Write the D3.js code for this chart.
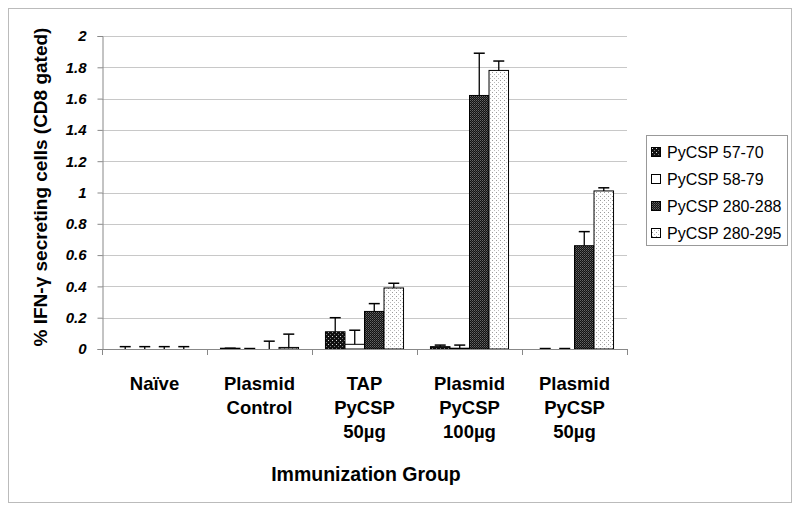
<!DOCTYPE html>
<html><head><meta charset="utf-8">
<script src="https://cdn.jsdelivr.net/npm/d3@7"></script>
<style>body{margin:0;background:#fff;} svg{display:block;font-family:Arial,"Liberation Sans",sans-serif;}</style>
</head><body>
<script>
const categories = [["Naïve"],["Plasmid","Control"],["TAP","PyCSP","50µg"],["Plasmid","PyCSP","100µg"],["Plasmid","PyCSP","50µg"]];
const seriesNames = ["PyCSP 57-70","PyCSP 58-79","PyCSP 280-288","PyCSP 280-295"];
const values = [
  [0, 0.005, 0.11, 0.015, 0],
  [0, 0, 0.03, 0.005, 0],
  [0, 0, 0.24, 1.62, 0.66],
  [0, 0.01, 0.39, 1.78, 1.01]
];
const errors = [
  [0.015, 0.0, 0.09, 0.01, 0.003],
  [0.015, 0.003, 0.09, 0.02, 0.003],
  [0.015, 0.05, 0.05, 0.27, 0.09],
  [0.015, 0.085, 0.03, 0.06, 0.02]
];
const yTicks = [0,0.2,0.4,0.6,0.8,1,1.2,1.4,1.6,1.8,2];

(function(){
const W=800,H=512;
const svg=d3.select("body").append("svg").attr("width",W).attr("height",H);
const defs=svg.append("defs");
function pat(id,bg,dots,size){
  const p=defs.append("pattern").attr("id",id).attr("patternUnits","userSpaceOnUse").attr("width",size).attr("height",size);
  p.append("rect").attr("width",size).attr("height",size).attr("fill",bg);
  dots.forEach(d=>p.append("rect").attr("x",d[0]).attr("y",d[1]).attr("width",1).attr("height",1).attr("fill",d[2]));
}
pat("p0","#111",[[0,0,"#ddd"],[2,2,"#777"]],4);
pat("p1","#fff",[],4);
pat("p2","#111",[[0,0,"#666"],[1,1,"#444"]],2);
pat("p3","#fff",[[0,0,"#999"],[2,2,"#bbb"]],4);
const fills=["url(#p0)","url(#p1)","url(#p2)","url(#p3)"];

svg.append("rect").attr("x",8.5).attr("y",8.5).attr("width",783).attr("height",494).attr("fill","none").attr("stroke","#bbb");

const pl=102,pr=627,pt=36,pb=349;
const x0=d3.scaleBand().domain(d3.range(categories.length)).range([pl,pr]).paddingInner(0).paddingOuter(0);
const x1=d3.scaleBand().domain(d3.range(seriesNames.length)).range([0,x0.bandwidth()]).paddingOuter(0.69).paddingInner(0);
const y=d3.scaleLinear().domain([0,2]).range([pb,pt]);

svg.append("g").selectAll("line").data(yTicks.filter(t=>t>0)).join("line")
  .attr("x1",pl).attr("x2",pr).attr("y1",d=>Math.round(y(d))+0.5).attr("y2",d=>Math.round(y(d))+0.5)
  .attr("stroke","#c8c8c8").attr("stroke-width",1);

const ya=svg.append("g").attr("transform",`translate(${pl+0.5},0)`).call(d3.axisLeft(y).tickValues(yTicks).tickSize(5).tickFormat(d=>String(+d.toFixed(1))));
ya.select(".domain").attr("stroke","#888");
ya.selectAll(".tick line").attr("stroke","#888");
ya.selectAll("text").attr("font-size",15).attr("font-weight","bold").attr("font-style","italic").attr("fill","#000").attr("x",-16);

const g=svg.append("g");
seriesNames.forEach((s,i)=>{
  values[i].forEach((v,j)=>{
    const bx=x0(j)+x1(i);
    const bw=x1.bandwidth();
    const yv=y(v);
    if(v>0){
      g.append("rect").attr("x",bx).attr("y",yv).attr("width",bw).attr("height",pb-yv)
        .attr("fill",fills[i]).attr("stroke","#000").attr("stroke-width",1);
    }
    const cx=bx+bw/2;
    const ye=y(v+errors[i][j]);
    g.append("line").attr("x1",cx).attr("x2",cx).attr("y1",yv).attr("y2",ye).attr("stroke","#000").attr("stroke-width",1.3);
    g.append("line").attr("x1",cx-5.5).attr("x2",cx+5.5).attr("y1",ye).attr("y2",ye).attr("stroke","#000").attr("stroke-width",1.5);
  });
});

svg.append("line").attr("x1",pl).attr("x2",pr).attr("y1",pb+0.5).attr("y2",pb+0.5).attr("stroke","#888");
svg.append("g").selectAll("line").data(d3.range(categories.length+1)).join("line")
  .attr("x1",d=>Math.round(pl+d*x0.bandwidth())+0.5).attr("x2",d=>Math.round(pl+d*x0.bandwidth())+0.5)
  .attr("y1",pb).attr("y2",pb+6).attr("stroke","#888");

categories.forEach((c,j)=>{
  const cx=x0(j)+x0.bandwidth()/2;
  const t=svg.append("text").attr("x",cx).attr("text-anchor","middle").attr("font-size",18.5).attr("font-weight","bold");
  c.forEach((line,k)=>t.append("tspan").attr("x",cx).attr("y",390+k*24).text(line));
});

svg.append("text").attr("x",366).attr("y",481).attr("text-anchor","middle").attr("font-size",19.5).attr("font-weight","bold").text("Immunization Group");
svg.append("text").attr("transform","translate(47,187) rotate(-90)").attr("text-anchor","middle").attr("font-size",19).attr("font-weight","bold").text("% IFN-γ secreting cells (CD8 gated)");

const lg=svg.append("g");
lg.append("rect").attr("x",646.5).attr("y",135.5).attr("width",141).attr("height",110).attr("fill","#fff").attr("stroke","#999");
seriesNames.forEach((s,i)=>{
  const yy=152+i*27;
  lg.append("rect").attr("x",651.5).attr("y",yy-4.5).attr("width",9).attr("height",9).attr("fill",fills[i]).attr("stroke","#000");
  lg.append("text").attr("x",667).attr("y",yy+6).attr("font-size",16).text(s);
});
})();
</script>
</body></html>
